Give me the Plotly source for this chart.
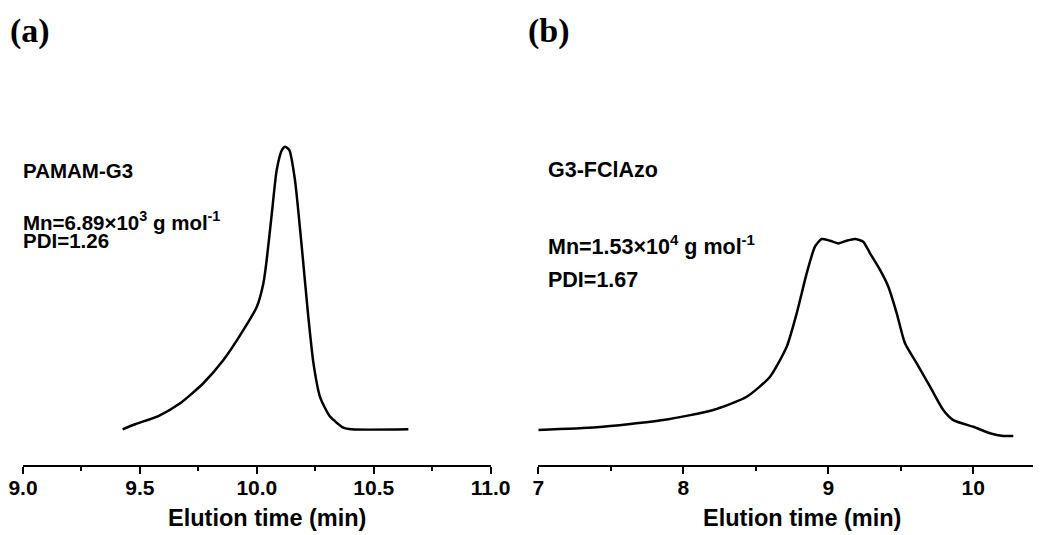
import plotly.graph_objects as go

# Panel (a): PAMAM-G3 GPC trace (relative intensity)
time_a = [9.426, 9.479, 9.579, 9.672, 9.771, 9.857, 9.942, 10.000, 10.028, 10.042,
          10.064, 10.085, 10.107, 10.121, 10.139, 10.163, 10.192, 10.220, 10.242,
          10.270, 10.313, 10.370, 10.406, 10.648]
int_a = [0.0, 0.018, 0.047, 0.092, 0.163, 0.245, 0.351, 0.434, 0.517, 0.599,
         0.764, 0.918, 0.988, 1.0, 0.988, 0.882, 0.646, 0.398, 0.234,
         0.115, 0.045, 0.006, 0.0, 0.0]

# Panel (b): G3-FClAzo GPC trace (relative intensity)
time_b = [7.0, 7.403, 7.862, 8.207, 8.437, 8.598, 8.713, 8.782, 8.851, 8.908,
          8.954, 9.012, 9.069, 9.127, 9.184, 9.241, 9.288, 9.357, 9.414, 9.472,
          9.529, 9.610, 9.702, 9.793, 9.862, 10.0, 10.115, 10.207, 10.276]
int_b = [0.0, 0.014, 0.052, 0.105, 0.174, 0.279, 0.436, 0.611, 0.820, 0.960,
         1.0, 0.991, 0.977, 0.991, 1.0, 0.986, 0.925, 0.838, 0.750, 0.611,
         0.454, 0.349, 0.227, 0.105, 0.052, 0.017, -0.017, -0.031, -0.031]

ticks_a = [9.0, 9.5, 10.0, 10.5, 11.0]
ticklabels_a = ["9.0", "9.5", "10.0", "10.5", "11.0"]
ticks_b = [7, 8, 9, 10]
ticklabels_b = ["7", "8", "9", "10"]

xtitle = "Elution time (min)"
label_a = "PAMAM-G3"
mn_a = "Mn=6.89×10<sup>3</sup> g mol<sup>-1</sup>"
pdi_a = "PDI=1.26"
label_b = "G3-FClAzo"
mn_b = "Mn=1.53×10<sup>4</sup> g mol<sup>-1</sup>"
pdi_b = "PDI=1.67"

# page body has an 8px margin; size the figure so it ends at the window edge
OFF = 8
W, H = 1041 - OFF, 535 - OFF
FONT = "Liberation Sans, Arial, sans-serif"
SERIF = "Liberation Serif, Times New Roman, serif"

fig = go.Figure()
fig.add_trace(go.Scatter(x=time_a, y=int_a, mode="lines", xaxis="x", yaxis="y",
                         line=dict(color="black", width=2.5, shape="spline", smoothing=0.6),
                         showlegend=False))
fig.add_trace(go.Scatter(x=time_b, y=int_b, mode="lines", xaxis="x2", yaxis="y2",
                         line=dict(color="black", width=2.5, shape="spline", smoothing=0.6),
                         showlegend=False))

def px_x(p):
    return (p - OFF) / W

def px_y(p):
    return (H - (p - OFF)) / H

axis_common = dict(showline=True, linecolor="black", linewidth=2, ticks="outside",
                   ticklen=7, tickwidth=2, tickcolor="black", showgrid=False,
                   zeroline=False, mirror=False, automargin=False,
                   ticklabelstandoff=-4,
                   tickfont=dict(family=FONT, size=21, color="black", weight="bold"))

fig.update_layout(
    template="none",
    width=W, height=H,
    margin=dict(l=0, r=0, t=0, b=0, pad=0),
    paper_bgcolor="white", plot_bgcolor="white",
    xaxis=dict(domain=[px_x(23), px_x(490.7)], range=[9, 11], anchor="y",
               tickvals=ticks_a, ticktext=ticklabels_a,
               minor=dict(ticks="outside", ticklen=4, tickwidth=2, tickcolor="black", dtick=0.25,
                          showgrid=False),
               **axis_common),
    yaxis=dict(domain=[px_y(465), px_y(100)], range=[-0.1263, 1.1653], visible=False,
               anchor="x", automargin=False),
    xaxis2=dict(domain=[px_x(538.3), 1.0], range=[7, 10.467], anchor="y2",
                tickvals=ticks_b, ticktext=ticklabels_b,
                minor=dict(ticks="outside", ticklen=4, tickwidth=2, tickcolor="black", dtick=0.5,
                           showgrid=False),
                **axis_common),
    yaxis2=dict(domain=[px_y(465), px_y(100)], range=[-0.1832, 1.7277], visible=False,
                anchor="x2", automargin=False),
)

def ann(text, x, y, size, family=FONT, xanchor="left"):
    fig.add_annotation(text=text, x=px_x(x), y=px_y(y), xref="paper", yref="paper",
                       showarrow=False, xanchor=xanchor, yanchor="middle",
                       font=dict(family=family, size=size, color="black", weight="bold"))

ann("(a)", 8, 31, 34, SERIF)
ann("(b)", 526, 31, 34, SERIF)
ann(xtitle, 267, 518, 23.5, xanchor="center")
ann(xtitle, 802, 518, 23.5, xanchor="center")
ann(label_a, 21, 170, 20.5)
ann(mn_a, 21, 220.5, 20.5)
ann(pdi_a, 21, 240.5, 20.5)
ann(label_b, 546, 170, 21.5)
ann(mn_b, 546, 245, 21.5)
ann(pdi_b, 546, 280, 21.5)

fig.write_html("out.html")
